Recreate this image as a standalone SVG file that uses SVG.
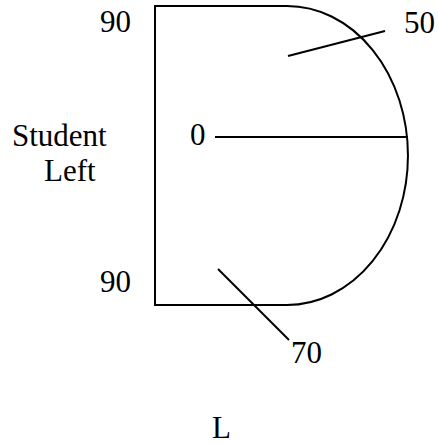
<svg xmlns="http://www.w3.org/2000/svg" width="438" height="445" viewBox="0 0 438 445">
<style>
.s{fill:none;stroke:#000;stroke-width:2}
</style>
<rect width="438" height="445" fill="#fff"/>
<g id="shape">
<path class="s" d="M287,6 H155 V305 H287 A121,149.5 0 0 0 287,6 Z"/>
</g>
<g id="connectors">
<line class="s" x1="288" y1="56" x2="385" y2="31"/>
<line class="s" x1="215" y1="137" x2="408" y2="137"/>
<line class="s" x1="218" y1="269" x2="289" y2="340"/>
</g>
<g id="labels" font-family="'Liberation Serif', 'Times New Roman', Times, serif" font-size="31" fill="#000">
<text x="100" y="32">90</text>
<text x="404" y="33">50</text>
<text x="100" y="292">90</text>
<text x="291" y="363">70</text>
<text x="190" y="145">0</text>
<text x="12" y="146">Student</text>
<text x="44" y="181">Left</text>
<text x="212" y="438">L</text>
</g>
</svg>
